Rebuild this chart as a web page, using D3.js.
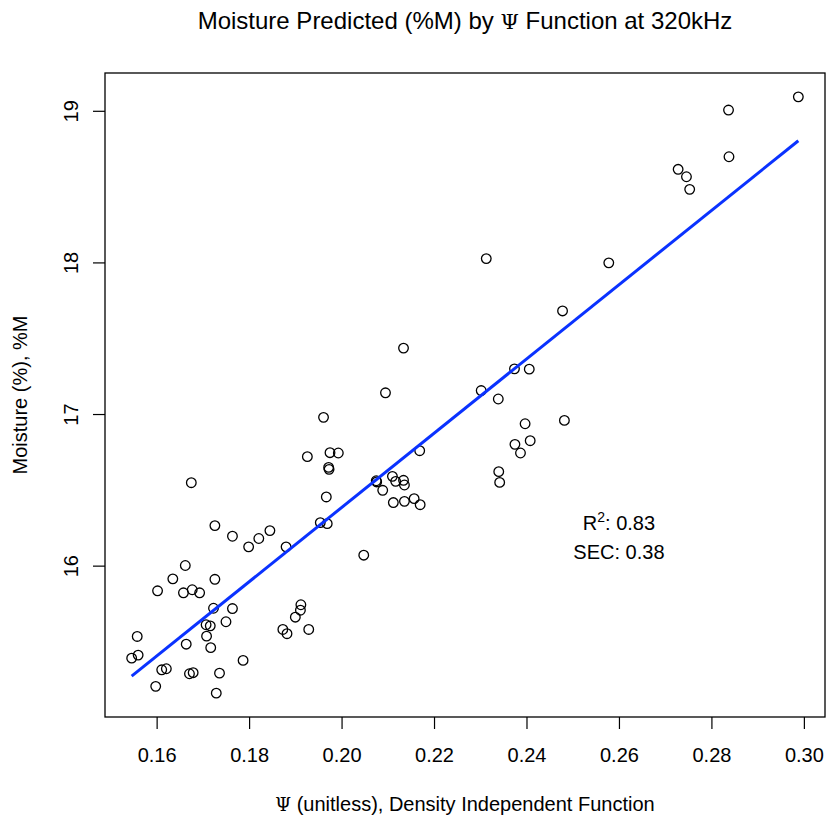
<!DOCTYPE html>
<html>
<head>
<meta charset="utf-8">
<script src="https://cdn.jsdelivr.net/npm/d3@7"></script>
<style>
  body { margin: 0; background: #fff; }
  text { font-family: Helvetica, Arial, "Liberation Sans", sans-serif; }
</style>
</head>
<body>
<div id="mychart"></div>
<script>
// moisture vs psi at 320kHz

// psi (unitless) for each sample
const psi = [
  0.2988, 0.2837, 0.2838, 0.2728, 0.2746, 0.2753, 0.2313, 0.2578, 0.2478, 0.2134,
  0.2095, 0.2374, 0.2406, 0.2302, 0.2339, 0.2482, 0.2397, 0.2408, 0.2375, 0.2387,
  0.2169, 0.2340, 0.2342, 0.2089, 0.2110, 0.2117, 0.2134, 0.2136, 0.2112, 0.2136,
  0.2157, 0.2170, 0.1961, 0.1926, 0.1975, 0.1993, 0.1972, 0.1973, 0.1967, 0.2075,
  0.2076, 0.1675, 0.1726, 0.1764, 0.1821, 0.1845, 0.1799, 0.1880, 0.1954, 0.1969,
  0.2048, 0.1662, 0.1635, 0.1726, 0.1602, 0.1658, 0.1677, 0.1693, 0.1723, 0.1764,
  0.1750, 0.1707, 0.1716, 0.1708, 0.1664, 0.1717, 0.1558, 0.1546, 0.1560, 0.1611,
  0.1621, 0.1598, 0.1671, 0.1679, 0.1736, 0.1729, 0.1787, 0.1873, 0.1882, 0.1929,
  0.1900, 0.1911, 0.1912
]

// measured moisture (%M), same order
const moisture = [
  19.092, 19.005, 18.697, 18.614, 18.565, 18.482, 18.025, 17.997, 17.680, 17.435,
  17.140, 17.298, 17.296, 17.155, 17.099, 16.958, 16.936, 16.824, 16.800, 16.743,
  16.758, 16.620, 16.549, 16.497, 16.589, 16.556, 16.563, 16.532, 16.416, 16.424,
  16.442, 16.402, 16.978, 16.719, 16.745, 16.743, 16.648, 16.635, 16.453, 16.560,
  16.552, 16.547, 16.264, 16.194, 16.179, 16.231, 16.124, 16.124, 16.284, 16.277,
  16.069, 16.001, 15.913, 15.910, 15.834, 15.821, 15.841, 15.821, 15.719, 15.717,
  15.630, 15.610, 15.603, 15.535, 15.482, 15.459, 15.533, 15.390, 15.410, 15.313,
  15.320, 15.204, 15.287, 15.294, 15.291, 15.159, 15.375, 15.579, 15.551, 15.579,
  15.660, 15.706, 15.742
]

// ticks
const xTicks = [0.16, 0.18, 0.20, 0.22, 0.24, 0.26, 0.28, 0.30]
const yTicks = [16, 17, 18, 19]

// fitted line: moisture = intercept + slope * psi
const fitIntercept = 11.485
const fitSlope = 24.49

// annotation
const statsAt = [0.26, 16.2]
const r2Text = "0.83"
const secText = "0.38"

const chartTarget = "#mychart"
const chartWidth = 826
const chartHeight = 820

// margins
const marginTop = 73
const marginRight = 1
const marginBottom = 103
const marginLeft = 105

const tickSize = 12
const labelSize = "20px"

const data = psi.map((p, i) => ({ psi: p, m: moisture[i] }))

// R style domains: data range plus 4% each side
const pad = (ext) => {
  const d = (ext[1] - ext[0]) * 0.04
  return [ext[0] - d, ext[1] + d]
}
const xExt = d3.extent(psi)
const yExt = d3.extent(moisture)

const xScale = d3.scaleLinear(pad(xExt), [marginLeft, chartWidth - marginRight])
const yScale = d3.scaleLinear(pad(yExt), [chartHeight - marginBottom, marginTop])

const svg = d3.select(chartTarget)
  .append("svg")
  .attr("width", chartWidth)
  .attr("height", chartHeight)
  .attr("viewBox", [0, 0, chartWidth, chartHeight])

// x axis
const xAxis = d3.axisBottom(xScale)
  .tickValues(xTicks)
  .tickSize(tickSize)
  .tickPadding(19)
  .tickFormat(d3.format(".2f"))

svg.append("g")
  .attr("transform", `translate(0,${chartHeight - marginBottom})`)
  .call(xAxis)
  .call(g => g.select(".domain").remove())
  .call(g => g.selectAll("line").attr("stroke", "#000").attr("stroke-width", 1.2))
  .call(g => g.selectAll("text")
    .attr("font-size", labelSize)
    .attr("fill", "#000"))

// y axis, labels turned like R
const yAxis = d3.axisLeft(yScale)
  .tickValues(yTicks)
  .tickSize(tickSize)
  .tickFormat(d3.format("d"))

svg.append("g")
  .attr("transform", `translate(${marginLeft},0)`)
  .call(yAxis)
  .call(g => g.select(".domain").remove())
  .call(g => g.selectAll("line").attr("stroke", "#000").attr("stroke-width", 1.2))
  .call(g => g.selectAll("text")
    .attr("font-size", labelSize)
    .attr("fill", "#000")
    .attr("x", null)
    .attr("dy", null)
    .attr("text-anchor", "middle")
    .attr("transform", "translate(-27,0) rotate(-90)"))

// box
svg.append("rect")
  .attr("x", marginLeft)
  .attr("y", marginTop)
  .attr("width", chartWidth - marginRight - marginLeft)
  .attr("height", chartHeight - marginBottom - marginTop)
  .attr("fill", "none")
  .attr("stroke", "#000")
  .attr("stroke-width", 1.3)

// points
svg.append("g")
  .attr("fill", "none")
  .attr("stroke", "#000")
  .attr("stroke-width", 1.3)
  .selectAll("circle")
  .data(data)
  .join("circle")
  .attr("cx", d => xScale(d.psi))
  .attr("cy", d => yScale(d.m))
  .attr("r", 4.8)

// fitted line over the data range
svg.append("line")
  .attr("x1", xScale(xExt[0]))
  .attr("y1", yScale(fitIntercept + fitSlope * xExt[0]))
  .attr("x2", xScale(xExt[1]))
  .attr("y2", yScale(fitIntercept + fitSlope * xExt[1]))
  .attr("stroke", "#0a32ff")
  .attr("stroke-width", 3)

// stats text
const sx = xScale(statsAt[0])
const sy = yScale(statsAt[1])
const r2 = svg.append("text")
  .attr("x", sx)
  .attr("y", sy - 5)
  .attr("text-anchor", "middle")
  .attr("font-size", labelSize)
r2.append("tspan").text("R")
r2.append("tspan").attr("font-size", "14px").attr("dy", -8).text("2")
r2.append("tspan").attr("dy", 8).text(": " + r2Text)

svg.append("text")
  .attr("x", sx)
  .attr("y", sy + 23.6)
  .attr("text-anchor", "middle")
  .attr("font-size", labelSize)
  .text("SEC: " + secText)

// title
const title = svg.append("text")
  .attr("x", (marginLeft + chartWidth - marginRight) / 2)
  .attr("y", 29)
  .attr("text-anchor", "middle")
  .attr("font-size", "24px")
title.append("tspan").text("Moisture Predicted (%M) by ")
title.append("tspan").attr("font-family", "'DejaVu Serif', serif").attr("font-size", "21px").text("Ψ")
title.append("tspan").text(" Function at 320kHz")

// x title
const xTitle = svg.append("text")
  .attr("x", (marginLeft + chartWidth - marginRight) / 2)
  .attr("y", 811)
  .attr("text-anchor", "middle")
  .attr("font-size", labelSize)
xTitle.append("tspan").attr("font-family", "'DejaVu Serif', serif").attr("font-size", "18px").text("Ψ")
xTitle.append("tspan").text(" (unitless), Density Independent Function")

// y title
svg.append("text")
  .attr("transform", `translate(27,${(marginTop + chartHeight - marginBottom) / 2}) rotate(-90)`)
  .attr("text-anchor", "middle")
  .attr("font-size", labelSize)
  .text("Moisture (%), %M")
</script>
</body>
</html>
